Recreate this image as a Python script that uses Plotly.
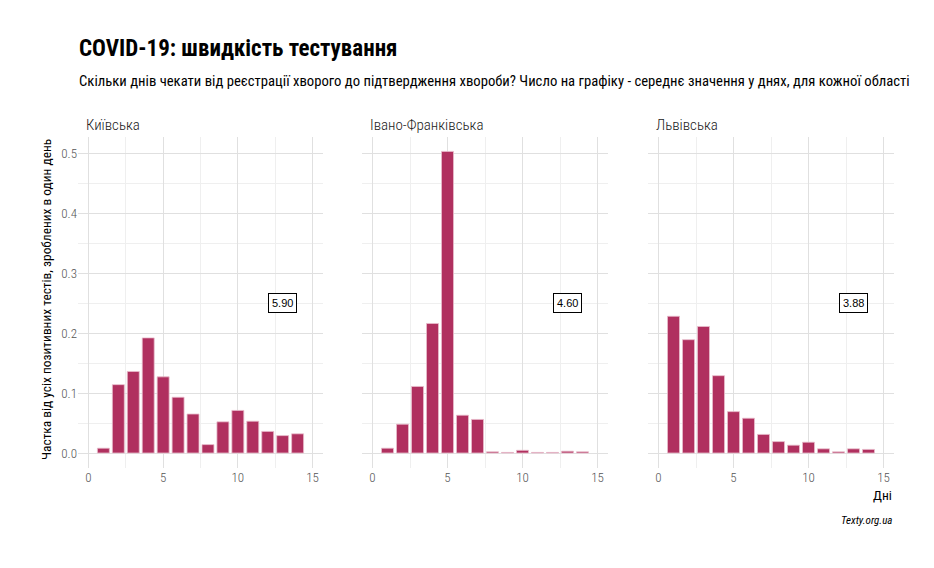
import plotly.graph_objects as go

# page body has an 8px margin, so the figure is drawn 8px in and 8px down
OFF = 8
W, H = 934 - OFF, 568 - OFF

days = list(range(1, 15))
regions = ["Київська", "Івано-Франківська", "Львівська"]
kyiv = [0.008, 0.114, 0.136, 0.192, 0.127, 0.093, 0.065, 0.014, 0.052, 0.071, 0.053, 0.036, 0.029, 0.032]
ivano = [0.008, 0.048, 0.111, 0.216, 0.503, 0.063, 0.056, 0.002, 0.001, 0.0045, 0.001, 0.001, 0.003, 0.002]
lviv = [0.228, 0.189, 0.211, 0.129, 0.069, 0.058, 0.031, 0.019, 0.013, 0.018, 0.007, 0.002, 0.007, 0.006]
means = ["5.90", "4.60", "3.88"]
label_x = 13
label_y = 0.25
x_ticks = [0, 5, 10, 15]
y_ticks = [0.0, 0.1, 0.2, 0.3, 0.4, 0.5]
y_tick_text = ["0.0", "0.1", "0.2", "0.3", "0.4", "0.5"]

title = "COVID-19: швидкість тестування"
subtitle = "Скільки днів чекати від реєстрації хворого до підтвердження хвороби? Число на графіку - середнє значення у днях, для кожної області"
y_title = "Частка від усіх позитивних тестів, зроблених в один день"
x_title = "Дні"
caption = "Texty.org.ua"

FONT = "Roboto Condensed, sans-serif"
BAR = "#b0305f"


def px_x(x):
    return (x - OFF) / W


def px_y(y):
    return 1 - (y - OFF) / H


series = [kyiv, ivano, lviv]
panels_px = [(78, 323), (362, 608), (648, 894)]
ytop_px, ybot_px = 137, 468

fig = go.Figure()
layout = dict(
    width=W, height=H,
    margin=dict(l=0, r=0, t=0, b=0),
    paper_bgcolor="white", plot_bgcolor="white",
    showlegend=False,
    font=dict(family=FONT, color="#222222"),
)
tickfont = dict(size=13, color="#555555", family=FONT, weight=300)
annotations = []
for i, (vals, name, m) in enumerate(zip(series, regions, means)):
    sfx = "" if i == 0 else str(i + 1)
    fig.add_trace(go.Bar(
        x=days, y=vals, width=0.8,
        marker=dict(color=BAR, line=dict(color="#e9bccb", width=0.8)),
        xaxis="x" + sfx, yaxis="y" + sfx,
    ))
    x0, x1 = panels_px[i]
    layout["xaxis" + sfx] = dict(
        domain=[px_x(x0), px_x(x1)], range=[-0.7, 15.7],
        tickvals=x_ticks, ticktext=[str(t) for t in x_ticks],
        showgrid=True, gridcolor="#e0e0e0", gridwidth=1,
        minor=dict(tickvals=[2.5, 7.5, 12.5], showgrid=True, gridcolor="#efefef", gridwidth=1),
        zeroline=False, showline=False, ticks="",
        tickfont=tickfont,
        anchor="y" + sfx, fixedrange=True,
    )
    layout["yaxis" + sfx] = dict(
        domain=[px_y(ybot_px), px_y(ytop_px)], range=[-0.025, 0.527],
        tickvals=y_ticks, ticktext=y_tick_text,
        showticklabels=(i == 0),
        showgrid=True, gridcolor="#e0e0e0", gridwidth=1,
        minor=dict(tickvals=[0.05, 0.15, 0.25, 0.35, 0.45], showgrid=True, gridcolor="#efefef", gridwidth=1),
        zeroline=False, showline=False, ticks="",
        tickfont=tickfont,
        anchor="x" + sfx, fixedrange=True,
    )
    annotations.append(dict(
        text=name, xref="paper", yref="paper",
        x=px_x(x0 + 6), y=px_y(125), xanchor="left", yanchor="middle",
        showarrow=False, font=dict(size=15, color="#222222", family=FONT, weight=300),
    ))
    annotations.append(dict(
        text=m, xref="x" + sfx, yref="y" + sfx, x=label_x, y=label_y,
        showarrow=False, font=dict(size=11, color="black", family="Liberation Sans, Arial, sans-serif"),
        bordercolor="black", borderwidth=1, borderpad=3, bgcolor="white",
    ))

annotations += [
    dict(text="<b>" + title + "</b>", xref="paper", yref="paper", x=px_x(77), y=px_y(49),
         xanchor="left", yanchor="middle", showarrow=False,
         font=dict(size=23, color="black", family=FONT)),
    dict(text=subtitle, xref="paper", yref="paper", x=px_x(77), y=px_y(81),
         xanchor="left", yanchor="middle", showarrow=False,
         font=dict(size=14.7, color="black", family=FONT)),
    dict(text=y_title, xref="paper", yref="paper", x=px_x(46), y=px_y(300),
         xanchor="center", yanchor="middle", textangle=-90, showarrow=False,
         font=dict(size=13.4, color="black", family=FONT)),
    dict(text=x_title, xref="paper", yref="paper", x=px_x(894), y=px_y(495),
         xanchor="right", yanchor="middle", showarrow=False,
         font=dict(size=13.5, color="black", family=FONT)),
    dict(text="<i>" + caption + "</i>", xref="paper", yref="paper", x=px_x(894), y=px_y(520),
         xanchor="right", yanchor="middle", showarrow=False,
         font=dict(size=11, color="black", family=FONT)),
]
layout["annotations"] = annotations
fig.update_layout(**layout)
fig.write_html("out.html")
